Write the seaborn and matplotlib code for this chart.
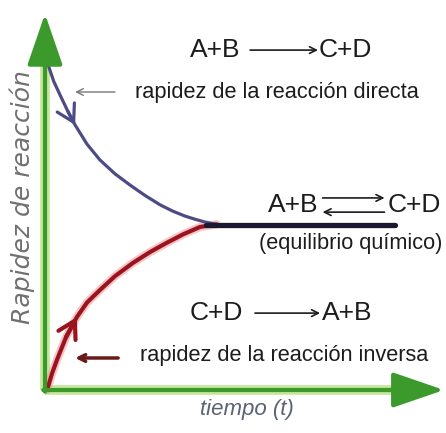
import matplotlib
matplotlib.use("Agg")
import matplotlib.pyplot as plt
import seaborn as sns
import pandas as pd

# values (tiempo vs rapidez, arbitrary units)
t_directa = [0.09, 0.25, 0.43, 0.65, 0.86, 1.2, 1.57, 2.0, 2.43, 2.85, 3.29, 3.65, 4.0, 4.3, 4.57, 4.9]
r_directa = [9.85, 9.35, 8.94, 8.45, 8.03, 7.45, 6.97, 6.55, 6.21, 5.9, 5.61, 5.42, 5.27, 5.17, 5.09, 5.02]
t_inversa = [0.06, 0.2, 0.34, 0.6, 0.91, 1.2, 1.57, 2.0, 2.51, 3.0, 3.46, 3.95, 4.43, 4.9]
r_inversa = [0.0, 0.5, 0.91, 1.6, 2.21, 2.65, 3.03, 3.45, 3.85, 4.18, 4.45, 4.72, 4.94, 5.02]
t_equilibrio = [4.6, 10.0]
r_equilibrio = [5.0, 5.0]

directa = pd.DataFrame({"tiempo": t_directa, "rapidez": r_directa})
inversa = pd.DataFrame({"tiempo": t_inversa, "rapidez": r_inversa})
equilibrio = pd.DataFrame({"tiempo": t_equilibrio, "rapidez": r_equilibrio})

sns.set_theme(style="white")
plt.rcParams["font.family"] = ["Liberation Sans", "DejaVu Sans"]

fig = plt.figure(figsize=(4.46, 4.33), dpi=100)
ax = fig.add_axes([0, 0, 1, 1])
ax.set_xlim(-1.286, 11.457)
ax.set_ylim(-1.303, 11.818)
ax.axis("off")

green = "#3c9a2c"
glow = "#c4e79a"

# axes with arrow heads
ax.plot([0, 0], [0, 10.2], color=glow, lw=7, solid_capstyle="butt")
ax.plot([0, 10.4], [0, 0], color=glow, lw=7, solid_capstyle="butt")
ax.annotate("", xy=(0, 11.4), xytext=(0, -0.05),
            arrowprops=dict(arrowstyle="-|>,head_length=1.6,head_width=0.55",
                            mutation_scale=20, color=green, lw=3, shrinkA=0, shrinkB=0))
ax.annotate("", xy=(11.4, 0), xytext=(-0.05, 0),
            arrowprops=dict(arrowstyle="-|>,head_length=1.6,head_width=0.55",
                            mutation_scale=20, color=green, lw=3, shrinkA=0, shrinkB=0))

# curves
sns.lineplot(data=inversa, x="tiempo", y="rapidez", sort=False, ax=ax,
             color="#f0a0a0", lw=6, alpha=0.6)
sns.lineplot(data=inversa, x="tiempo", y="rapidez", sort=False, ax=ax,
             color="#9a1420", lw=3)
sns.lineplot(data=directa, x="tiempo", y="rapidez", sort=False, ax=ax,
             color="#4d4b86", lw=2.3)
sns.lineplot(data=equilibrio, x="tiempo", y="rapidez", sort=False, ax=ax,
             color="#1b1830", lw=3.8)

# direction marks on the curves
ax.annotate("", xy=(t_directa[4], r_directa[4]), xytext=(t_directa[3], r_directa[3]),
            arrowprops=dict(arrowstyle="->,head_length=0.6,head_width=0.35",
                            mutation_scale=20, color="#4d4b86", lw=2.3, shrinkA=0, shrinkB=0))
ax.annotate("", xy=(t_inversa[4], r_inversa[4]), xytext=(t_inversa[3], r_inversa[3]),
            arrowprops=dict(arrowstyle="->,head_length=0.6,head_width=0.35",
                            mutation_scale=20, color="#9a1420", lw=3, shrinkA=0, shrinkB=0))

txt = "#1c1c1c"
fs_eq = 19   # short equations
fs = 15.7    # descriptive lines

# forward reaction
ax.text(5.57, 10.3, "A+B", ha="right", va="center", fontsize=fs_eq, color=txt)
ax.annotate("", xy=(7.8, 10.3), xytext=(5.86, 10.3),
            arrowprops=dict(arrowstyle="->", color=txt, lw=1.2, shrinkA=0, shrinkB=0))
ax.text(7.83, 10.3, "C+D", ha="left", va="center", fontsize=fs_eq, color=txt)
ax.annotate("", xy=(0.86, 9.03), xytext=(2.0, 9.03),
            arrowprops=dict(arrowstyle="->", color="#777777", lw=1, shrinkA=0, shrinkB=0))
ax.text(2.57, 9.03, "rapidez de la reacción directa", ha="left", va="center",
        fontsize=fs, color=txt)

# equilibrium
ax.text(7.8, 5.6, "A+B", ha="right", va="center", fontsize=fs_eq, color=txt)
ax.annotate("", xy=(9.7, 5.82), xytext=(7.93, 5.82),
            arrowprops=dict(arrowstyle="->", color=txt, lw=1.2, shrinkA=0, shrinkB=0))
ax.annotate("", xy=(7.93, 5.39), xytext=(9.7, 5.39),
            arrowprops=dict(arrowstyle="->", color=txt, lw=1.2, shrinkA=0, shrinkB=0))
ax.text(9.78, 5.6, "C+D", ha="left", va="center", fontsize=fs_eq, color=txt)
ax.text(8.74, 4.45, "(equilibrio químico)", ha="center", va="center",
        fontsize=fs, color=txt)

# reverse reaction
ax.text(5.66, 2.33, "C+D", ha="right", va="center", fontsize=fs_eq, color=txt)
ax.annotate("", xy=(7.86, 2.33), xytext=(6.0, 2.33),
            arrowprops=dict(arrowstyle="->", color=txt, lw=1.2, shrinkA=0, shrinkB=0))
ax.text(7.91, 2.33, "A+B", ha="left", va="center", fontsize=fs_eq, color=txt)
ax.annotate("", xy=(0.86, 0.97), xytext=(2.09, 0.97),
            arrowprops=dict(arrowstyle="->", color="#6b1a1a", lw=2.5, shrinkA=0, shrinkB=0))
ax.text(2.71, 1.06, "rapidez de la reacción inversa", ha="left", va="center",
        fontsize=fs, color=txt)

# axis labels
ax.text(5.77, -0.6, "tiempo (t)", ha="center", va="center", fontsize=16,
        style="italic", color="#5a6275", family=["Liberation Sans", "DejaVu Sans"])
ax.text(-0.66, 5.85, "Rapidez de reacción", ha="center", va="center", fontsize=18,
        rotation=90, style="italic", color="#707070", family=["DejaVu Sans"])

fig.savefig("out.png", dpi=100)
